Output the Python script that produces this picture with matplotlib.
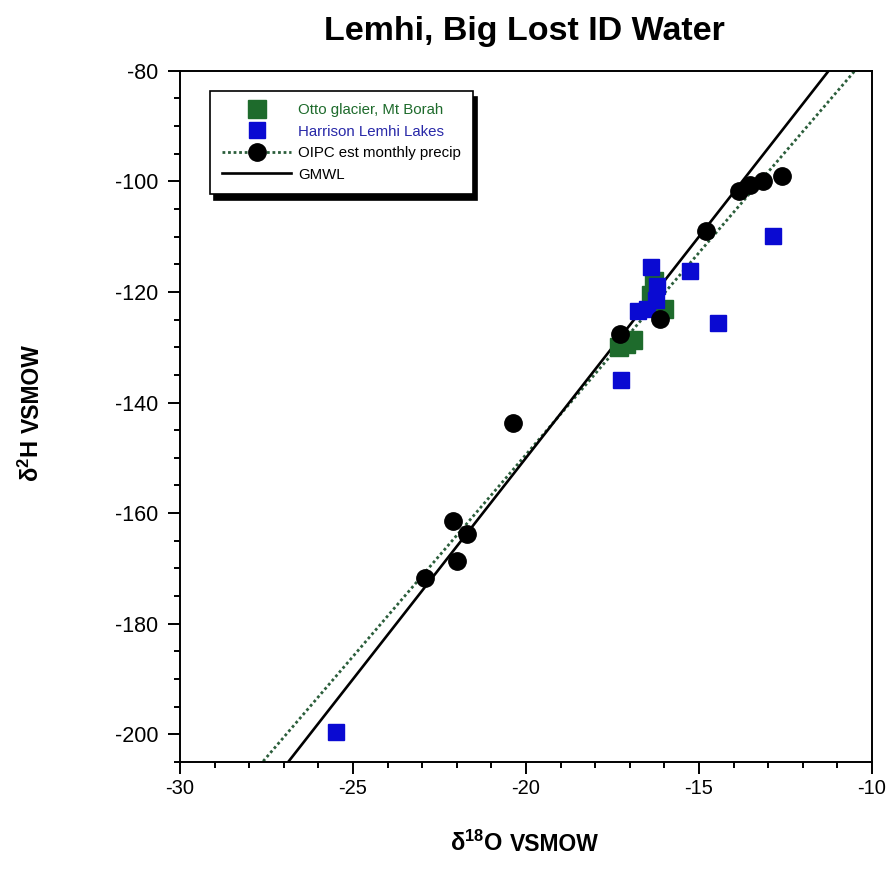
import matplotlib
matplotlib.use("Agg")
import matplotlib.pyplot as plt
from matplotlib.ticker import MultipleLocator
import numpy as np

# --- data -------------------------------------------------------------
# Otto glacier, Mt Borah
otto_d18o = [-17.30, -17.10, -16.90, -16.40, -16.30, -16.00]
otto_d2h = [-130.0, -129.5, -128.7, -120.5, -118.0, -123.0]

# Harrison Lemhi Lakes
harr_d18o = [-25.50, -17.25, -16.40, -16.20, -16.25, -16.50, -16.75,
             -15.25, -14.45, -12.85]
harr_d2h = [-199.5, -136.0, -115.5, -119.0, -121.5, -123.0, -123.5,
            -116.3, -125.6, -109.8]

# OIPC est monthly precip
oipc_d18o = [-22.92, -22.12, -22.00, -21.71, -20.38, -17.28, -16.13,
             -14.79, -13.83, -13.53, -13.14, -12.61]
oipc_d2h = [-171.8, -161.4, -168.6, -163.7, -143.7, -127.6, -124.9,
            -108.9, -101.8, -100.6, -100.0, -99.0]

# lines: (slope, intercept)
OIPC_FIT = (7.3, -3.4)    # dashed green
GMWL = (8.0, 10.0)

XLIM = (-30, -10)
YLIM = (-205, -80)

GREEN = "#1e6b2c"
BLUE = "#0a0ad2"
LINE_GREEN = "#2b5e3b"

plt.rcParams["font.family"] = ["Liberation Sans", "DejaVu Sans"]
plt.rcParams["axes.unicode_minus"] = False
plt.rcParams["mathtext.fontset"] = "custom"
plt.rcParams["mathtext.rm"] = "Liberation Sans"
plt.rcParams["mathtext.bf"] = "Liberation Sans:bold"
plt.rcParams["mathtext.default"] = "bf"

fig = plt.figure(figsize=(8.86, 8.77), dpi=100)
ax = fig.add_axes([0.2032, 0.1311, 0.7810, 0.7883])

xs = np.array(XLIM, dtype=float)
fit_line, = ax.plot(xs, OIPC_FIT[0] * xs + OIPC_FIT[1], color=LINE_GREEN,
                    lw=2.0, ls=(0, (1, 1)), zorder=2)
gmwl_line, = ax.plot(xs, GMWL[0] * xs + GMWL[1], color="black", lw=1.9,
                     zorder=2)

otto, = ax.plot(otto_d18o, otto_d2h, ls="none", marker="s", ms=13.5,
                mfc=GREEN, mec=GREEN, zorder=3)
harr, = ax.plot(harr_d18o, harr_d2h, ls="none", marker="s", ms=12,
                mfc=BLUE, mec=BLUE, zorder=4)
oipc, = ax.plot(oipc_d18o, oipc_d2h, ls="none", marker="o", ms=12.5,
                mfc="black", mec="black", zorder=5)

ax.set_xlim(*XLIM)
ax.set_ylim(*YLIM)
ax.xaxis.set_major_locator(MultipleLocator(5))
ax.xaxis.set_minor_locator(MultipleLocator(1))
ax.yaxis.set_major_locator(MultipleLocator(20))
ax.yaxis.set_minor_locator(MultipleLocator(5))
ax.tick_params(which="both", direction="out", width=1.4, top=False,
               right=False)
ax.tick_params(which="major", length=8.5)
ax.tick_params(which="minor", length=4.5)
ax.tick_params(axis="y", pad=7, labelsize=15.5)
ax.tick_params(axis="x", pad=4, labelsize=14.5)
for sp in ax.spines.values():
    sp.set_linewidth(1.4)

leg = ax.legend([otto, harr, (fit_line, oipc), gmwl_line],
                ["Otto glacier, Mt Borah", "Harrison Lemhi Lakes",
                 "OIPC est monthly precip", "GMWL"],
                loc="upper left", bbox_to_anchor=(0.0434, 0.9706),
                borderaxespad=0, fontsize=10.8, labelspacing=0.5,
                borderpad=0.8, handlelength=4.6, handletextpad=0.45,
                fancybox=False, edgecolor="black", framealpha=1,
                labelcolor=[GREEN, "#2828a8", "black", "black"],
                shadow={"ox": 3, "oy": -4.5, "facecolor": "black",
                        "edgecolor": "black", "alpha": 1})
leg.get_frame().set_linewidth(1.2)

# title and axis labels
fig.text(0.592, 0.954, "Lemhi, Big Lost ID Water", ha="center",
         va="baseline", fontsize=24.5, fontweight="bold")

fig.text(0.568, 0.030, r"δ$^{18}$O", ha="right", va="baseline",
         fontsize=17, fontweight="bold")
fig.text(0.576, 0.030, "VSMOW", ha="left", va="baseline",
         fontsize=16.5, fontweight="bold")

fig.text(0.044, 0.4983, r"δ$^{2}$H", ha="right", va="baseline",
         rotation=90, rotation_mode="anchor", fontsize=17, fontweight="bold")
fig.text(0.044, 0.5060, "VSMOW", ha="left", va="baseline",
         rotation=90, rotation_mode="anchor", fontsize=16.5,
         fontweight="bold")

fig.savefig("out.png", dpi=100)
